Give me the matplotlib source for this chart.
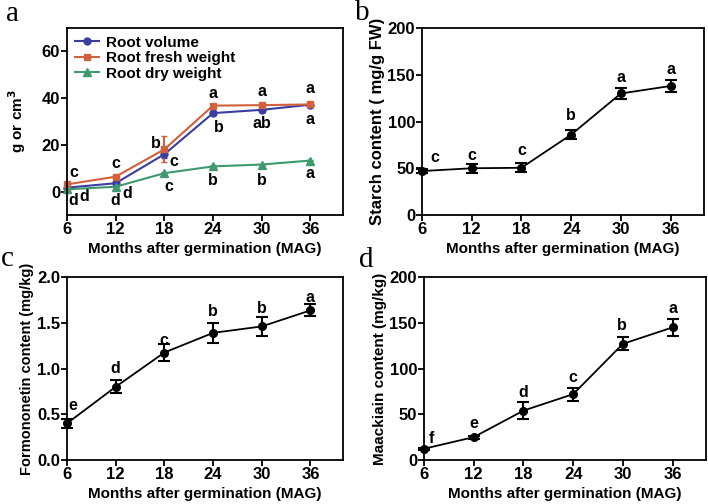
import matplotlib
matplotlib.use('Agg')
import matplotlib.pyplot as plt
from matplotlib.lines import Line2D

plt.rcParams['font.family'] = ['Liberation Sans', 'DejaVu Sans']
plt.rcParams['font.weight'] = 'bold'
plt.rcParams['font.size'] = 11

months = [6, 12, 18, 24, 30, 36]
xlabel = 'Months after germination (MAG)'

# panel a
root_volume = [1.7, 3.6, 16.0, 33.6, 35.0, 37.2]
root_volume_err = [0.5, 0.6, 1.5, 0.8, 0.8, 0.6]
root_fresh = [3.1, 6.4, 18.1, 36.8, 37.0, 37.3]
root_fresh_err = [0.5, 0.6, 5.6, 0.6, 0.8, 0.6]
root_dry = [1.0, 2.1, 7.9, 10.8, 11.6, 13.3]
root_dry_err = [0.2, 0.3, 0.5, 0.4, 0.4, 0.4]
letters_a = [  # (x, y, text)
    (6.8, 8.1, 'c'), (6.8, -4.0, 'd'), (8.1, -1.9, 'd'),
    (12.0, 12.1, 'c'), (11.9, -3.7, 'd'), (13.4, -0.9, 'd'),
    (17.0, 20.7, 'b'), (19.2, 12.7, 'c'), (18.5, 2.1, 'c'),
    (24.0, 42.0, 'a'), (24.7, 27.4, 'b'), (24.0, 4.6, 'b'),
    (30.0, 42.7, 'a'), (30.0, 29.0, 'ab'), (30.0, 4.9, 'b'),
    (36.0, 44.0, 'a'), (36.0, 31.0, 'a'), (36.0, 7.9, 'a'),
]

# panel b
starch = [47, 50, 50.5, 86, 130, 138]
starch_err = [2, 5, 5, 5, 6, 6]
letters_b = [(7.6, 61, 'c'), (12, 64, 'c'), (18, 69, 'c'),
             (23.9, 106, 'b'), (30, 147, 'a'), (36, 156, 'a')]

# panel c
formononetin = [0.40, 0.80, 1.175, 1.39, 1.46, 1.636]
formononetin_err = [0.05, 0.07, 0.09, 0.11, 0.10, 0.065]
letters_c = [(6.7, 0.6, 'e'), (12, 1.0, 'd'), (17.9, 1.31, 'c'),
             (24, 1.62, 'b'), (30, 1.655, 'b'), (36, 1.78, 'a')]

# panel d
maackiain = [12.3, 25, 54, 72, 127, 145]
maackiain_err = [1, 1.5, 9, 7, 7, 9]
letters_d = [(6.9, 24, 'f'), (12, 40, 'e'), (18, 74, 'd'),
             (23.9, 90, 'c'), (29.9, 147, 'b'), (36, 166, 'a')]

fig = plt.figure(figsize=(7.08, 5.04), dpi=100)
ax_a = fig.add_axes([0.0946, 0.5734, 0.3898, 0.371])
ax_b = fig.add_axes([0.596, 0.5734, 0.398, 0.371])
ax_c = fig.add_axes([0.0946, 0.0873, 0.3898, 0.363])
ax_d = fig.add_axes([0.5989, 0.0873, 0.398, 0.363])


def style_axis(ax, ylim, yticks, ylabel, yfmt=None, ysize=11):
    ax.set_xlim(6, 40)
    ax.set_xticks(months)
    ax.set_ylim(*ylim)
    ax.set_yticks(yticks)
    if yfmt:
        ax.set_yticklabels([yfmt.format(v) for v in yticks])
    for s in ax.spines.values():
        s.set_linewidth(1.3)
    ax.tick_params(direction='out', length=4, width=1.3, labelsize=12, pad=1)
    ax.set_xlabel(xlabel, fontsize=11, fontweight='bold', labelpad=3.5)
    ax.set_ylabel(ylabel, fontsize=ysize, fontweight='bold', labelpad=2)


def add_letters(ax, letters):
    for x, y, t in letters:
        ax.text(x, y, t, ha='center', va='center', fontsize=11.5, fontweight='bold')


# a
series_a = [(root_volume, root_volume_err, '#3B3DA0', 'o', 5, 'Root volume'),
            (root_fresh, root_fresh_err, '#D2603A', 's', 5, 'Root fresh weight'),
            (root_dry, root_dry_err, '#3E9A6E', '^', 6, 'Root dry weight')]
handles = []
for vals, errs, col, mk, ms, lab in series_a:
    ax_a.errorbar(months, vals, yerr=errs, color=col, marker=mk, ms=ms,
                  lw=1.5, capsize=2, clip_on=False)
    handles.append(Line2D([], [], color=col, marker=mk, ms=ms, lw=1.5, label=lab))
style_axis(ax_a, (-10, 70), [0, 20, 40, 60], 'g or cm$^\\mathbf{3}$')
add_letters(ax_a, letters_a)
ax_a.legend(handles=handles, loc='upper left', frameon=False, fontsize=11, handlelength=1.6,
            borderaxespad=0.2, borderpad=0.3, labelspacing=0.1, handletextpad=0.45)
ax_a.yaxis.labelpad = 10

# b, c, d
for ax, vals, errs in [(ax_b, starch, starch_err), (ax_c, formononetin, formononetin_err),
                       (ax_d, maackiain, maackiain_err)]:
    ax.errorbar(months, vals, yerr=errs, color='black', ecolor='black', marker='o', ms=5.5,
                lw=1.3, elinewidth=1.5, capsize=4, capthick=1.5, clip_on=False)

style_axis(ax_b, (0, 200), [0, 50, 100, 150, 200], 'Starch content ( mg/g FW)', ysize=12)
add_letters(ax_b, letters_b)
style_axis(ax_c, (0, 2.0), [0, 0.5, 1.0, 1.5, 2.0], 'Formononetin content (mg/kg)', '{:.1f}', ysize=10.5)
add_letters(ax_c, letters_c)
style_axis(ax_d, (0, 200), [0, 50, 100, 150, 200], 'Maackiain content (mg/kg)', ysize=11)
add_letters(ax_d, letters_d)

for x, y, t in [(0.017, 0.972, 'a'), (0.512, 0.975, 'b'), (0.011, 0.487, 'c'), (0.517, 0.485, 'd')]:
    fig.text(x, y, t, fontsize=21, fontweight='normal', family=['Liberation Serif', 'DejaVu Serif'],
             ha='center', va='center')

fig.savefig('out.png', dpi=100)
